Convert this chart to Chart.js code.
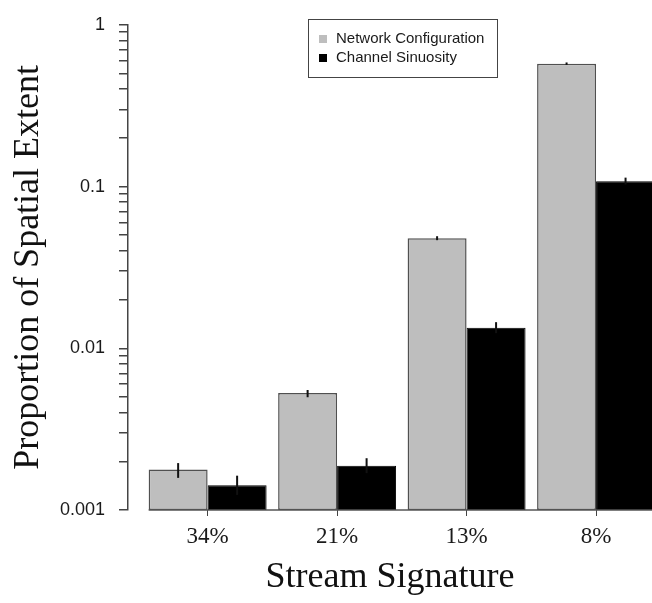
<!DOCTYPE html>
<html lang="en">
<head>
  <meta charset="UTF-8" />
  <title>Stream Signature</title>
  <script src="https://cdn.jsdelivr.net/npm/chart.js"></script>
  <style>
    body { margin: 0; background: #fff; overflow: hidden; }
  </style>
</head>
<body>
  <canvas id="chart" width="652" height="603"></canvas>

  <script>
    // values (log scale)
    const categories = ['34%', '21%', '13%', '8%'];
    const networkConfig = [0.00178, 0.00529, 0.0479, 0.575];
    const channelSinuosity = [0.00142, 0.00188, 0.0134, 0.108];
    const networkErrLow = [0.00158, 0.00498, 0.0466, 0.565];
    const networkErrHigh = [0.00195, 0.00552, 0.0493, 0.585];
    const sinuosityErrLow = [0.00124, 0.00169, 0.0124, 0.103];
    const sinuosityErrHigh = [0.00163, 0.00209, 0.0145, 0.1135];
    const yTickValues = [0.001, 0.01, 0.1, 1];
    const yTickLabels = ['0.001', '0.01', '0.1', '1'];

    const errors = [
      { low: networkErrLow, high: networkErrHigh },
      { low: sinuosityErrLow, high: sinuosityErrHigh },
    ];

    // error bars on top of the bars
    const errorBars = {
      id: 'errorBars',
      afterDatasetsDraw(chart) {
        const ctx = chart.ctx;
        const y = chart.scales.y;
        ctx.save();
        ctx.strokeStyle = '#111';
        ctx.lineWidth = 2;
        errors.forEach((err, di) => {
          const meta = chart.getDatasetMeta(di);
          meta.data.forEach((bar, i) => {
            ctx.beginPath();
            ctx.moveTo(bar.x, y.getPixelForValue(err.low[i]));
            ctx.lineTo(bar.x, y.getPixelForValue(err.high[i]));
            ctx.stroke();
          });
        });
        // baseline starting at the first bar
        const first = chart.getDatasetMeta(0).data[0];
        const area = chart.chartArea;
        ctx.strokeStyle = '#555';
        ctx.lineWidth = 1.5;
        ctx.beginPath();
        ctx.moveTo(first.x - first.width / 2, area.bottom);
        ctx.lineTo(area.right, area.bottom);
        ctx.stroke();
        ctx.restore();
      }
    };

    // boxed legend like the original figure
    const boxLegend = {
      id: 'boxLegend',
      afterDraw(chart) {
        const ctx = chart.ctx;
        ctx.save();
        ctx.strokeStyle = '#444';
        ctx.lineWidth = 1;
        ctx.strokeRect(308.5, 19.5, 189, 58);
        ctx.font = '15px "Liberation Sans", Arial, sans-serif';
        ctx.textBaseline = 'middle';
        chart.data.datasets.forEach((ds, i) => {
          const cy = 39 + i * 19;
          ctx.fillStyle = ds.backgroundColor;
          ctx.fillRect(319, cy - 4, 8, 8);
          ctx.fillStyle = '#1a1a1a';
          ctx.fillText(ds.label, 336, cy);
        });
        ctx.restore();
      }
    };

    new Chart(document.getElementById('chart'), {
      type: 'bar',
      data: {
        datasets: [
          {
            label: 'Network Configuration',
            data: networkConfig.map((v, i) => ({ x: i, y: v })),
            backgroundColor: '#bebebe',
            borderColor: '#505050',
            borderWidth: 1.5,
            borderSkipped: false,
          },
          {
            label: 'Channel Sinuosity',
            data: channelSinuosity.map((v, i) => ({ x: i, y: v })),
            backgroundColor: '#000000',
            borderColor: '#000000',
            borderWidth: 1,
            borderSkipped: false,
          },
        ],
      },
      options: {
        responsive: false,
        devicePixelRatio: 1,
        animation: false,
        categoryPercentage: 0.911,
        barPercentage: 1,
        layout: { padding: { top: 19, right: 0, bottom: 0, left: 0 } },
        plugins: {
          legend: { display: false },
          tooltip: { enabled: false },
        },
        scales: {
          x: {
            type: 'linear',
            offset: false,
            min: -0.615,
            max: 3.432,
            afterFit: (scale) => { scale.height = 93; },
            border: { display: false },
            grid: { offset: false, drawOnChartArea: false, drawTicks: true, tickLength: 6, color: '#444', lineWidth: 1 },
            ticks: {
              stepSize: 1,
              includeBounds: false,
              autoSkip: false,
              maxRotation: 0,
              padding: 7,
              color: '#1a1a1a',
              font: { family: '"Liberation Serif", "Times New Roman", serif', size: 23 },
              callback: (v) => categories[v] ?? '',
            },
            title: {
              display: true,
              text: 'Stream Signature',
              color: '#111',
              padding: { top: 0, bottom: 4 },
              font: { family: '"Liberation Serif", "Times New Roman", serif', size: 36 },
            },
          },
          y: {
            type: 'logarithmic',
            min: 0.001,
            max: 1,
            afterFit: (scale) => { scale.width = 128; },
            afterBuildTicks: (scale) => {
              const ticks = [];
              for (let d = 0; d < yTickValues.length - 1; d++) {
                for (let m = 1; m <= 9; m++) ticks.push({ value: m * yTickValues[d] });
              }
              ticks.push({ value: yTickValues[yTickValues.length - 1] });
              scale.ticks = ticks;
            },
            border: { display: true, color: '#444', width: 1.5 },
            grid: { drawOnChartArea: false, drawTicks: true, tickLength: 9, color: '#444', lineWidth: 1.5 },
            ticks: {
              autoSkip: false,
              padding: 14,
              color: '#1a1a1a',
              font: { family: '"Liberation Sans", Arial, sans-serif', size: 18 },
              callback: (v) => {
                const idx = yTickValues.findIndex((t) => Math.abs(t - v) / t < 1e-6);
                return idx >= 0 ? yTickLabels[idx] : '';
              },
            },
            title: {
              display: true,
              text: 'Proportion of Spatial Extent',
              color: '#111',
              padding: { top: 7, bottom: 0 },
              font: { family: '"Liberation Serif", "Times New Roman", serif', size: 36 },
            },
          },
        },
      },
      plugins: [errorBars, boxLegend],
    });
  </script>
</body>
</html>
